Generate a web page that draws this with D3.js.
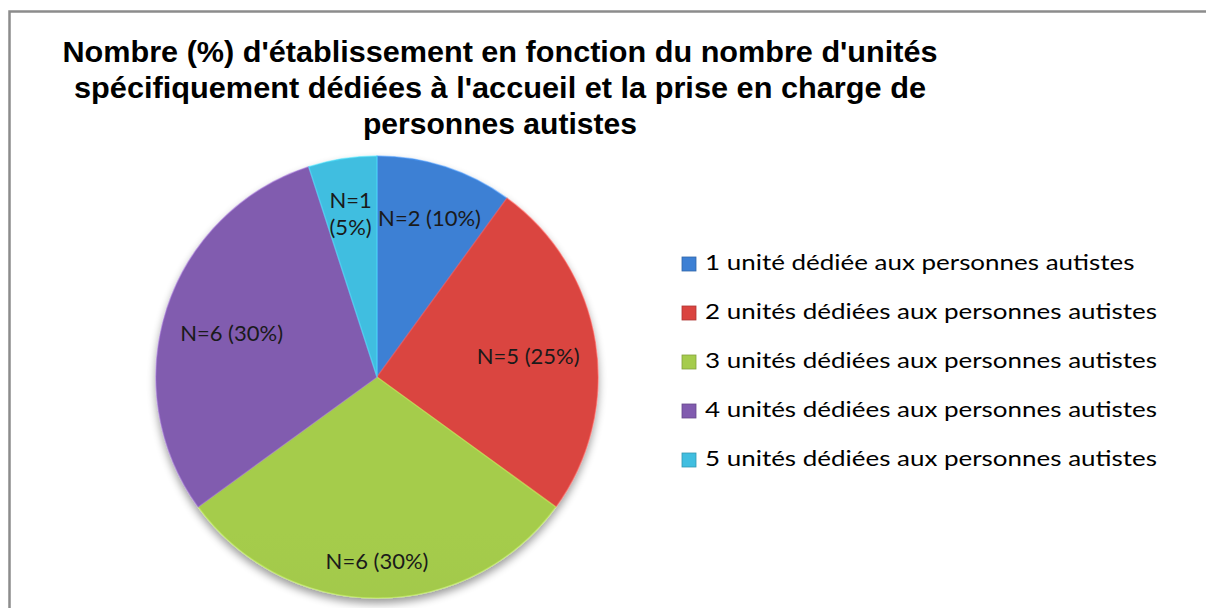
<!DOCTYPE html>
<html>
<head>
<meta charset="utf-8">
<script src="https://cdn.jsdelivr.net/npm/d3@7"></script>
<style>
  body { margin: 0; background: #fff; overflow: hidden; }
  svg { display: block; }
</style>
</head>
<body>
<div class="chart"></div>
<script>
const titleLines = [
  "Nombre (%)  d'établissement en fonction du nombre d'unités",
  "spécifiquement dédiées à l'accueil et la prise en charge de",
  "personnes autistes"
];
const categories = [
  "1 unité dédiée aux personnes autistes",
  "2 unités dédiées aux personnes autistes",
  "3 unités dédiées aux personnes autistes",
  "4 unités dédiées aux personnes autistes",
  "5 unités dédiées aux personnes autistes"
];
const counts = [2, 5, 6, 6, 1];
const percents = [10, 25, 30, 30, 5];
const sliceColors = ["#3a79c9", "#cf403d", "#9cc148", "#7a56a6", "#3db4d4"];

const width = 1206;
const height = 608;
const cx = 377;
const cy = 377;
const radius = 221;

const svg = d3
  .select(".chart")
  .append("svg")
  .attr("width", width)
  .attr("height", height);

const defs = svg.append("defs");

// soft shadow under the pie
const shadow = defs.append("filter")
  .attr("id", "shadow")
  .attr("x", "-20%").attr("y", "-20%")
  .attr("width", "140%").attr("height", "140%");
shadow.append("feGaussianBlur").attr("in", "SourceAlpha").attr("stdDeviation", 4);
shadow.append("feOffset").attr("dx", 0).attr("dy", 5).attr("result", "blur");
shadow.append("feComponentTransfer").append("feFuncA").attr("type", "linear").attr("slope", 0.4);
const merge = shadow.append("feMerge");
merge.append("feMergeNode");
merge.append("feMergeNode").attr("in", "SourceGraphic");

// one vertical gradient per slice, lighter at top, darker at bottom
sliceColors.forEach((c, i) => {
  const g = defs.append("linearGradient")
    .attr("id", "grad" + i)
    .attr("gradientUnits", "userSpaceOnUse")
    .attr("x1", 0).attr("y1", cy - radius)
    .attr("x2", 0).attr("y2", cy + radius);
  g.append("stop").attr("offset", "0%").attr("stop-color", d3.color(c).brighter(0.15));
  g.append("stop").attr("offset", "55%").attr("stop-color", c);
  g.append("stop").attr("offset", "100%").attr("stop-color", d3.color(c).darker(0.5));
});

// frame
svg.append("path")
  .attr("d", `M9.5,${height + 5} V11.5 H${width}`)
  .attr("fill", "none")
  .attr("stroke", "#8c8c8c")
  .attr("stroke-width", 2.5);

// title
const titleWidths = [875, 852, 274];
svg.append("g")
  .selectAll("text")
  .data(titleLines)
  .join("text")
  .attr("x", 500)
  .attr("y", (d, i) => 62 + i * 36)
  .attr("text-anchor", "middle")
  .attr("textLength", (d, i) => titleWidths[i])
  .attr("lengthAdjust", "spacingAndGlyphs")
  .style("font-family", "'Liberation Sans', Arial, sans-serif")
  .style("font-weight", "bold")
  .style("font-size", "29px")
  .style("fill", "#000")
  .text(d => d);

// pie
const pie = d3.pie().sort(null).value(d => d);
const arcs = pie(counts);
const arc = d3.arc().innerRadius(0).outerRadius(radius);

const pieG = svg.append("g")
  .attr("transform", `translate(${cx},${cy})`);

pieG.append("g")
  .attr("filter", "url(#shadow)")
  .selectAll("path")
  .data(arcs)
  .join("path")
  .attr("d", arc)
  .style("fill", (d, i) => `url(#grad${i})`)
  .style("stroke", (d, i) => d3.color(sliceColors[i]).brighter(0.7))
  .style("stroke-opacity", 0.5)
  .style("stroke-width", 1.5)
  .style("stroke-linejoin", "round");

// data labels
const labelFont = "Lato, 'Noto Sans', sans-serif";
const labels = pieG.append("g")
  .selectAll("text")
  .data(arcs)
  .join("text")
  .attr("text-anchor", "middle")
  .style("font-family", labelFont)
  .style("font-size", "22px")
  .style("fill", "#1a1a1a");

labels.each(function (d, i) {
  const t = d3.select(this);
  const lines = d.endAngle - d.startAngle < 0.5
    ? [`N=${counts[i]}`, `(${percents[i]}%)`]
    : [`N=${counts[i]} (${percents[i]}%)`];
  lines.forEach((l, j) => {
    t.append("tspan")
      .attr("x", 0)
      .attr("dy", j === 0 ? `${0.5 - (lines.length - 1) * 0.62}em` : "1.25em")
      .text(l);
  });
  const box = this.getBBox();
  const a = (d.startAngle + d.endAngle) / 2;
  const dx = Math.sin(a);
  const dy = -Math.cos(a);
  const extent = Math.abs(dx) * box.width / 2 + Math.abs(dy) * box.height / 2;
  const dist = radius * 0.86 - 0.7 * extent;
  t.attr("transform", `translate(${dx * dist},${dy * dist})`);
});

// legend
const legend = svg.append("g")
  .attr("transform", "translate(682,257)");

const legendRow = legend.selectAll("g")
  .data(categories)
  .join("g")
  .attr("transform", (d, i) => `translate(0,${i * 49})`);

legendRow.append("rect")
  .attr("width", 14)
  .attr("height", 14)
  .style("fill", (d, i) => `url(#grad${i})`)
  .style("stroke", (d, i) => d3.color(sliceColors[i]).darker(0.5))
  .style("stroke-width", 0.8);

const legendText = legendRow.append("text")
  .attr("x", 23)
  .attr("y", 13)
  .style("font-family", labelFont)
  .style("font-size", "22px")
  .style("fill", "#000")
  .text(d => d);

// widen the legend text to the look of the original font
legendText.each(function () {
  const w = this.getComputedTextLength();
  d3.select(this)
    .attr("textLength", w * 1.18)
    .attr("lengthAdjust", "spacingAndGlyphs");
});
</script>
</body>
</html>
